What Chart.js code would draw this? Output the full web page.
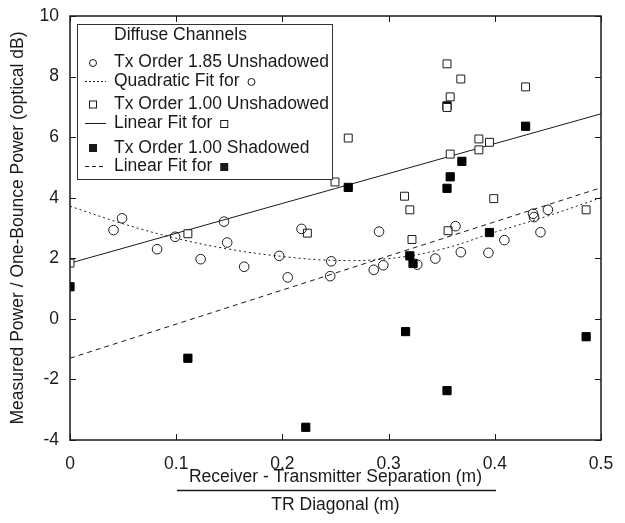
<!DOCTYPE html>
<html>
<head>
<meta charset="utf-8">
<script src="https://cdn.jsdelivr.net/npm/chart.js@4/dist/chart.umd.min.js"></script>
<style>
  html, body { margin: 0; padding: 0; background: #fff; }
  #wrap { width: 625px; height: 523px; }
</style>
</head>
<body>
<div id="wrap"><canvas id="c" width="625" height="523"></canvas></div>
<script>
// ---- Data ----
const xTickValues = [0, 0.1, 0.2, 0.3, 0.4, 0.5];
const xTickLabels = ['0', '0.1', '0.2', '0.3', '0.4', '0.5'];
const yTickValues = [-4, -2, 0, 2, 4, 6, 8, 10];
const yTickLabels = ['-4', '-2', '0', '2', '4', '6', '8', '10'];

// Tx Order 1.85 Unshadowed (open circles)
const circX = [0.041, 0.049, 0.082, 0.099, 0.123, 0.145, 0.148, 0.164, 0.197, 0.205, 0.218, 0.245, 0.246, 0.286, 0.291, 0.295, 0.327, 0.344, 0.363, 0.368, 0.394, 0.409, 0.436, 0.437, 0.443, 0.450];
const circY = [2.93, 3.32, 2.30, 2.71, 1.97, 3.21, 2.52, 1.72, 2.08, 1.37, 2.97, 1.41, 1.90, 1.62, 2.88, 1.77, 1.79, 1.99, 3.06, 2.20, 2.18, 2.60, 3.47, 3.36, 2.86, 3.60];

// Tx Order 1.00 Unshadowed (open squares)
const sqX = [0, 0.111, 0.2235, 0.2495, 0.262, 0.315, 0.320, 0.322, 0.355, 0.355, 0.358, 0.368, 0.358, 0.356, 0.385, 0.385, 0.395, 0.399, 0.429, 0.486];
const sqY = [1.84, 2.81, 2.83, 4.52, 5.97, 4.05, 3.60, 2.62, 8.42, 6.98, 7.33, 7.92, 5.44, 2.91, 5.94, 5.58, 5.83, 3.97, 7.66, 3.60];

// Tx Order 1.00 Shadowed (filled squares)
const fillX = [0, 0.111, 0.222, 0.262, 0.316, 0.320, 0.323, 0.355, 0.355, 0.358, 0.369, 0.355, 0.395, 0.429, 0.486];
const fillY = [1.06, -1.30, -3.58, 4.34, -0.42, 2.08, 1.83, 7.03, 4.31, 4.69, 5.20, -2.37, 2.85, 6.36, -0.59];

// Fit curves
const quadFitX = [0, 0.05, 0.1, 0.15, 0.2, 0.25, 0.3, 0.35, 0.4, 0.45, 0.5];
const quadFitY = [3.72, 3.14, 2.66, 2.30, 2.06, 1.93, 1.99, 2.30, 2.86, 3.40, 4.00];
const linSqX = [0, 0.5];
const linSqY = [1.84, 6.77];
const linFillX = [0, 0.5];
const linFillY = [-1.30, 4.33];

const legendTitle = 'Diffuse Channels';
const legendLabels = ['Tx Order 1.85 Unshadowed', 'Quadratic Fit for', 'Tx Order 1.00 Unshadowed', 'Linear Fit for', 'Tx Order 1.00 Shadowed', 'Linear Fit for'];

const xTitle = ['Receiver - Transmitter Separation (m)', 'TR Diagonal (m)'];
const yTitle = 'Measured Power / One-Bounce Power (optical dB)';

// ---- Build ----
const pts = (xs, ys) => xs.map((x, i) => ({ x: x, y: ys[i] }));
const INK = '#1a1a1a';
const FONT = '"Liberation Sans", Arial, Helvetica, sans-serif';
const FS = 17.5;

const frameTicks = {
  id: 'frameTicks',
  afterDatasetsDraw(chart) {
    const { ctx, chartArea: a, scales: { x, y } } = chart;
    ctx.save();
    ctx.strokeStyle = INK;
    ctx.lineWidth = 1.5;
    ctx.strokeRect(a.left, a.top, a.right - a.left, a.bottom - a.top);
    ctx.lineWidth = 1;
    const L = 6;
    xTickValues.forEach(v => {
      const px = Math.round(x.getPixelForValue(v)) + 0.5;
      ctx.beginPath();
      ctx.moveTo(px, a.bottom); ctx.lineTo(px, a.bottom - L);
      ctx.moveTo(px, a.top); ctx.lineTo(px, a.top + L);
      ctx.stroke();
    });
    yTickValues.forEach(v => {
      const py = Math.round(y.getPixelForValue(v)) + 0.5;
      ctx.beginPath();
      ctx.moveTo(a.left, py); ctx.lineTo(a.left + L, py);
      ctx.moveTo(a.right, py); ctx.lineTo(a.right - L, py);
      ctx.stroke();
    });
    // fraction bar under the x title
    ctx.lineWidth = 1.5;
    ctx.beginPath();
    ctx.moveTo(177, 490.5); ctx.lineTo(496, 490.5);
    ctx.stroke();

    // legend box
    const bx = 77.5, by = 24.5, bw = 255, bh = 155;
    ctx.fillStyle = '#fff';
    ctx.fillRect(bx, by, bw, bh);
    ctx.lineWidth = 1;
    ctx.strokeStyle = '#333';
    ctx.strokeRect(bx, by, bw, bh);

    ctx.fillStyle = INK;
    ctx.font = FS + 'px ' + FONT;
    ctx.textBaseline = 'middle';
    ctx.textAlign = 'left';
    const tx = 114;
    ctx.fillText(legendTitle, tx, 35);
    const rows = [62.5, 81, 104.5, 123, 148, 166];
    const symX = 93;
    rows.forEach((ry, i) => ctx.fillText(legendLabels[i], tx, ry));

    const circle = (cx, cy, r) => { ctx.beginPath(); ctx.arc(cx, cy, r, 0, Math.PI * 2); ctx.stroke(); };
    const square = (cx, cy, s, fill) => {
      if (fill) { ctx.fillRect(cx - s / 2, cy - s / 2, s, s); }
      else { ctx.strokeRect(cx - s / 2 + 0.5, cy - s / 2 + 0.5, s - 1, s - 1); }
    };
    ctx.strokeStyle = INK;
    ctx.lineWidth = 1;
    circle(symX, rows[0] + 0.5, 3.5);
    square(symX, rows[2], 8, false);
    square(symX, rows[4], 8, true);

    const seg = (yy, dash) => {
      ctx.setLineDash(dash);
      ctx.beginPath(); ctx.moveTo(85, yy + 0.5); ctx.lineTo(106, yy + 0.5); ctx.stroke();
      ctx.setLineDash([]);
    };
    seg(rows[1], [2, 2]);
    seg(rows[3], []);
    seg(rows[5], [4, 3]);

    // small symbols after "... for"
    const w1 = ctx.measureText(legendLabels[1]).width;
    circle(tx + w1 + 12, rows[1] + 1, 3.5);
    const w3 = ctx.measureText(legendLabels[3]).width;
    square(tx + w3 + 12, rows[3] + 1, 8, false);
    const w5 = ctx.measureText(legendLabels[5]).width;
    square(tx + w5 + 12, rows[5] + 1, 8, true);
    ctx.restore();
  }
};

const fixTicks = (vals) => (scale) => { scale.ticks = vals.map(v => ({ value: v })); };

new Chart(document.getElementById('c'), {
  type: 'scatter',
  data: {
    datasets: [
      { label: legendLabels[0], data: pts(circX, circY), pointStyle: 'circle', pointRadius: 4.8,
        borderColor: INK, backgroundColor: 'rgba(255,255,255,0)', borderWidth: 1, order: 0 },
      { label: legendLabels[2], data: pts(sqX, sqY), pointStyle: 'rect', pointRadius: 5.6,
        borderColor: INK, backgroundColor: '#fff', borderWidth: 1, order: 0 },
      { label: legendLabels[4], data: pts(fillX, fillY), pointStyle: 'rect', pointRadius: 5.8,
        borderColor: '#000', backgroundColor: '#000', borderWidth: 1, order: 0 },
      { label: 'Quadratic Fit', data: pts(quadFitX, quadFitY), showLine: true, pointRadius: 0, tension: 0.4,
        borderColor: INK, borderWidth: 1, borderDash: [2, 3], order: 1 },
      { label: 'Linear Fit sq', data: pts(linSqX, linSqY), showLine: true, pointRadius: 0,
        borderColor: INK, borderWidth: 1, order: 1 },
      { label: 'Linear Fit filled', data: pts(linFillX, linFillY), showLine: true, pointRadius: 0,
        borderColor: INK, borderWidth: 1, borderDash: [5, 4], order: 1 }
    ]
  },
  options: {
    responsive: false,
    devicePixelRatio: 1,
    animation: false,
    events: [],
    layout: { padding: { top: 16, right: 24, left: 0, bottom: 0 } },
    plugins: { legend: { display: false }, tooltip: { enabled: false }, title: { display: false } },
    scales: {
      x: {
        type: 'linear', min: 0, max: 0.5, position: 'bottom',
        afterBuildTicks: fixTicks(xTickValues),
        afterFit: (s) => { s.height = 83; s.paddingLeft = 0; s.paddingRight = 0; },
        grid: { display: false, drawTicks: false },
        border: { display: false },
        ticks: { padding: 14, color: INK, font: { family: FONT, size: FS },
          callback: (v) => { const i = xTickValues.indexOf(v); return i >= 0 ? xTickLabels[i] : ''; } },
        title: { display: true, text: xTitle, color: INK, font: { family: FONT, size: FS, lineHeight: 1.6 },
          padding: { top: 0, bottom: 4 } }
      },
      y: {
        type: 'linear', min: -4, max: 10, position: 'left',
        afterBuildTicks: fixTicks(yTickValues),
        afterFit: (s) => { s.width = 70; s.paddingTop = 0; s.paddingBottom = 0; },
        grid: { display: false, drawTicks: false },
        border: { display: false },
        ticks: { padding: 11, color: INK, font: { family: FONT, size: FS },
          callback: (v) => { const i = yTickValues.indexOf(v); return i >= 0 ? yTickLabels[i] : ''; } },
        title: { display: true, text: yTitle, color: INK, font: { family: FONT, size: FS, lineHeight: 1.2 },
          padding: { top: 8, bottom: 0 } }
      }
    }
  },
  plugins: [frameTicks]
});
</script>
</body>
</html>
